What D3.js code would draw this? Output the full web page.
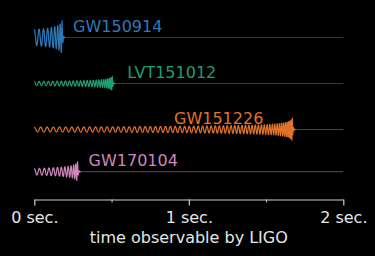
<!DOCTYPE html>
<html>
<head>
<meta charset="utf-8">
<script src="https://cdn.jsdelivr.net/npm/d3@7"></script>
<style>
  html, body { margin: 0; padding: 0; background: #000; }
  svg { display: block; font-family: "DejaVu Sans", sans-serif; }
</style>
</head>
<body>
<svg id="chart"></svg>
<script>
// events, in the order they are stacked
const events = ["GW150914", "LVT151012", "GW151226", "GW170104"];
// time from entering the band to merger (sec.)
const mergerTimes = [0.18, 0.505, 1.67, 0.28];
// visible wave cycles before merger
const cycles = [8, 24, 62, 12];
// relative strain amplitude at start and at the merger peak
const startAmp = [0.5, 0.13, 0.15, 0.2];
const peakAmp = [1.05, 0.44, 0.7, 0.62];

const xTicks = [0, 1, 2];
const xMinorTicks = [0.5, 1.5];
const xLabel = "time observable by LIGO";

const colors = ["#2b7bba", "#1f9e74", "#e0732a", "#cf86bd"];

let width = 375;
let height = 256;
let svg = d3.select("#chart").attr("width", width).attr("height", height);

svg.append("rect").attr("width", width).attr("height", height).attr("fill", "#000");

let x = d3.scaleLinear().domain([0, 2]).range([34.3, 343.3]);
let row = d3.scaleOrdinal().domain(events).range([37.5, 83.5, 129.5, 171.7]);
let amp = d3.scaleLinear().domain([-1, 1]).range([16, -16]);
let color = d3.scaleOrdinal().domain(events).range(colors);

// label offset from the merger (px), long signals get the label on the left
let labelDx = { GW150914: 11, LVT151012: 15, GW151226: -29, GW170104: 11 };

let data = events.map((name, i) => ({
  name: name,
  tc: mergerTimes[i],
  cycles: cycles[i],
  a0: startAmp[i],
  a1: peakAmp[i]
}));

// inspiral chirp: frequency ~ tau^-3/8, amplitude ~ tau^-1/4
function chirp(d) {
  let eps = 0.01;
  let tau0 = d.tc + eps;
  let k = d.cycles / (Math.pow(tau0, 5 / 8) - Math.pow(eps, 5 / 8));
  let e0 = Math.pow(tau0, -0.25), e1 = Math.pow(eps, -0.25);
  let n = Math.ceil((x(d.tc) - x(0)) * 8);
  let pts = [];
  let phase = 0;
  for (let i = 0; i <= n; i++) {
    let t = d.tc * i / n;
    let tau = d.tc - t + eps;
    phase = 2 * Math.PI * k * (Math.pow(tau0, 5 / 8) - Math.pow(tau, 5 / 8));
    let a = d.a0 + (d.a1 - d.a0) * (Math.pow(tau, -0.25) - e0) / (e1 - e0);
    pts.push([t, a * Math.cos(phase)]);
  }
  // short ringdown
  let f = k * (5 / 8) * Math.pow(eps, -3 / 8);
  let rd = 0.02;
  for (let i = 1; i <= 40; i++) {
    let dt = rd * i / 40;
    let a = d.a1 * Math.exp(-dt / 0.004);
    pts.push([d.tc + dt, a * Math.cos(phase + 2 * Math.PI * f * dt)]);
  }
  return pts;
}

let line = d3.line().x(p => x(p[0])).y(p => amp(p[1]));

let g = svg.append("g")
  .selectAll("g")
  .data(data)
  .join("g")
  .attr("transform", d => "translate(0," + row(d.name) + ")");

// flat trace after the merger
g.append("line")
  .attr("x1", d => x(d.tc))
  .attr("x2", x(2))
  .attr("y1", 0)
  .attr("y2", 0)
  .attr("stroke", d => color(d.name))
  .attr("stroke-opacity", 0.5)
  .attr("stroke-width", 1);

g.append("path")
  .attr("d", d => line(chirp(d)))
  .attr("fill", "none")
  .attr("stroke", d => color(d.name))
  .attr("stroke-width", 1.2)
  .attr("stroke-linejoin", "round");

g.append("text")
  .attr("x", d => x(d.tc) + labelDx[d.name])
  .attr("y", -5.5)
  .attr("text-anchor", d => labelDx[d.name] < 0 ? "end" : "start")
  .attr("fill", d => color(d.name))
  .style("font-size", "16px")
  .text(d => d.name);

// x axis
let axisY = 199.5;
let axis = svg.append("g")
  .attr("transform", "translate(0," + axisY + ")")
  .call(d3.axisBottom(x)
    .tickValues(xTicks)
    .tickFormat(d => d + " sec.")
    .tickSize(6)
    .tickSizeOuter(0)
    .tickPadding(6.5));
axis.select(".domain").attr("stroke", "#cfcfcf").attr("stroke-width", 1.2);
axis.selectAll(".tick line").attr("stroke", "#cfcfcf").attr("stroke-width", 1.2);
axis.selectAll(".tick text")
  .attr("fill", "#e6e6e6")
  .style("font-size", "16px")
  .style("font-family", "DejaVu Sans, sans-serif");

let minor = svg.append("g")
  .attr("transform", "translate(0," + axisY + ")")
  .call(d3.axisBottom(x).tickValues(xMinorTicks).tickFormat("").tickSize(3).tickSizeOuter(0));
minor.select(".domain").remove();
minor.selectAll(".tick line").attr("stroke", "#cfcfcf").attr("stroke-width", 1);

svg.append("text")
  .attr("x", x(1))
  .attr("y", 243)
  .attr("text-anchor", "middle")
  .attr("fill", "#e6e6e6")
  .style("font-size", "16px")
  .text(xLabel);
</script>
</body>
</html>
